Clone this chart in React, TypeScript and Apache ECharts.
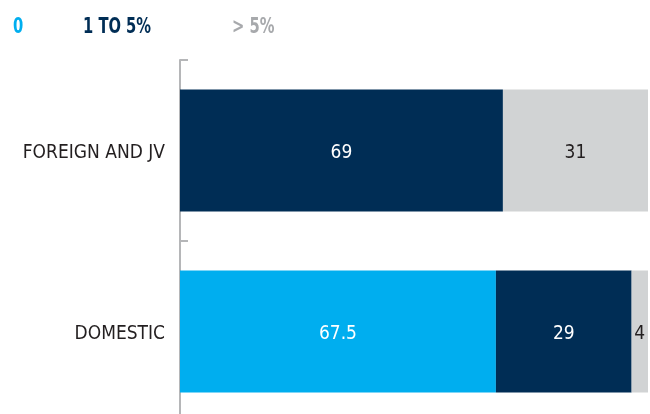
import React, { useEffect, useRef } from "react";
import * as echarts from "echarts";

const categories = ["DOMESTIC", "FOREIGN AND JV"];
const seriesNames = ["0", "1 TO 5%", "> 5%"];
const zeroValues = [67.5, 0];
const oneToFiveValues = [29, 69];
const overFiveValues = [4, 31];

const colors = ["#00AEEF", "#002D55", "#D1D3D4"];
const legendColors = ["#00AEEF", "#002D55", "#A7A9AC"];
const labelColors = ["#FFFFFF", "#FFFFFF", "#231F20"];
const legendX = [13, 83, 232];

const FONT = "'DejaVu Sans Condensed', 'Liberation Sans Narrow', 'Roboto', sans-serif";

export default function App() {
  const ref = useRef<HTMLDivElement>(null);
  useEffect(() => {
    if (!ref.current) return;
    const chart = echarts.init(ref.current, null, { renderer: "svg" });
    const data = [zeroValues, oneToFiveValues, overFiveValues];
    chart.setOption({
      animation: false,
      grid: {
        left: 180,
        top: 60,
        width: 468,
        height: 362,
        containLabel: false,
        outerBoundsMode: "none",
      },
      xAxis: { type: "value", min: 0, max: 100, show: false },
      yAxis: {
        type: "category",
        data: categories,
        axisLine: { show: true, lineStyle: { color: "#B5B6B8", width: 2 } },
        axisTick: { show: true, inside: true, length: 8, lineStyle: { color: "#B5B6B8", width: 2 } },
        axisLabel: { color: "#231F20", fontSize: 19, fontFamily: FONT, margin: 15 },
        splitLine: { show: false },
      },
      graphic: seriesNames.map((n, i) => ({
        type: "text",
        x: legendX[i],
        y: 15,
        scaleX: 0.78,
        style: { text: n, fill: legendColors[i], font: `bold 21px ${FONT}` },
      })),
      series: seriesNames.map((n, i) => ({
        name: n,
        type: "bar",
        stack: "total",
        barWidth: 122,
        data: data[i],
        itemStyle: { color: colors[i] },
        label: {
          show: true,
          position: "inside",
          color: labelColors[i],
          fontSize: 19,
          fontFamily: FONT,
          formatter: (p: any) => (p.value ? String(p.value) : ""),
        },
      })),
    });
    return () => chart.dispose();
  }, []);
  return <div ref={ref} style={{ position: "fixed", left: 0, top: 0, width: 650, height: 414 }} />;
}
